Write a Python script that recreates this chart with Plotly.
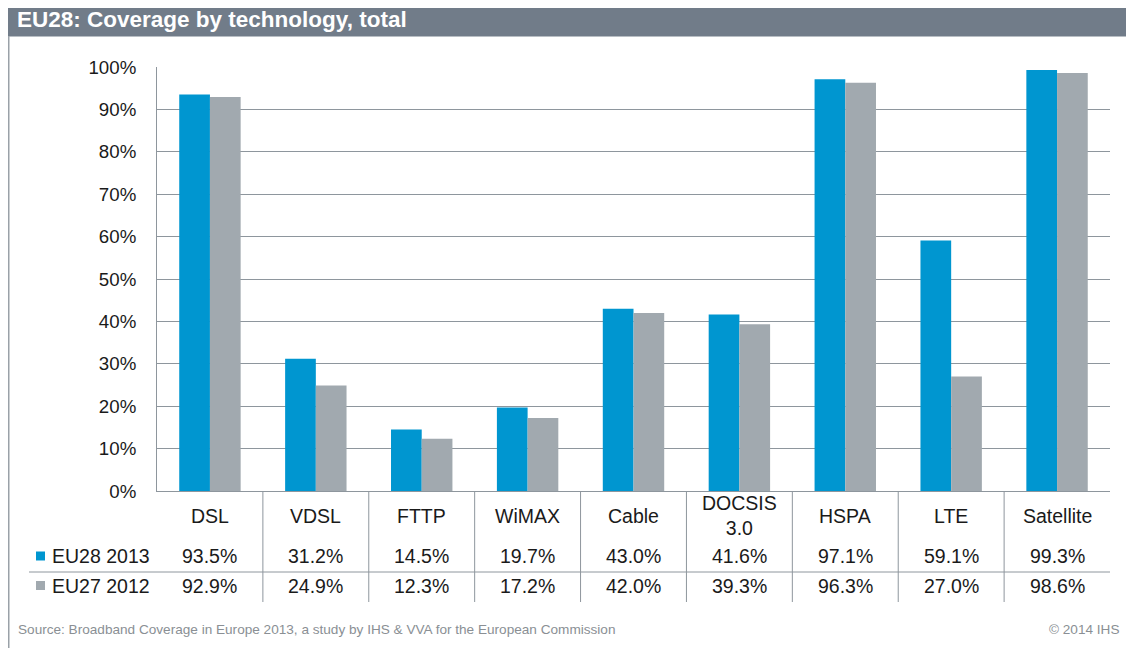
import plotly.graph_objects as go

categories = ["DSL", "VDSL", "FTTP", "WiMAX", "Cable", "DOCSIS<br>3.0", "HSPA", "LTE", "Satellite"]
eu28_2013 = [93.5, 31.2, 14.5, 19.7, 43.0, 41.6, 97.1, 59.1, 99.3]
eu27_2012 = [92.9, 24.9, 12.3, 17.2, 42.0, 39.3, 96.3, 27.0, 98.6]
series_names = ["EU28 2013", "EU27 2012"]
y_ticks = [0, 10, 20, 30, 40, 50, 60, 70, 80, 90, 100]

# page body has an 8px margin; lay out in reference pixels shifted by it
OFF = 8
W, H = 1134 - OFF, 648 - OFF
L, R, T, B = 157 - OFF, 1110 - OFF, 67 - OFF, 491 - OFF
BLUE = "#0096D0"
GREY = "#A1A9AF"
LINE = "#8E969D"
TXT = "#1a1a1a"
FONT = "Liberation Sans, Arial, sans-serif"
TS = 19.5


def px(x):
    return (x - OFF - L) / (R - L)


def py(y):
    return (B - (y - OFF)) / (B - T)


fig = go.Figure()
fig.add_trace(go.Bar(x=categories, y=eu28_2013, name=series_names[0], marker=dict(color=BLUE, line=dict(width=0))))
fig.add_trace(go.Bar(x=categories, y=eu27_2012, name=series_names[1], marker=dict(color=GREY, line=dict(width=0))))

shapes = []
shapes.append(dict(type="rect", xref="paper", yref="paper", x0=px(0), x1=px(1134 + 20), y0=py(36), y1=py(-20),
                   fillcolor="#717C89", line=dict(width=0), layer="below"))
shapes.append(dict(type="line", xref="paper", yref="paper", x0=px(0), x1=px(1134 + 20), y0=py(36.5), y1=py(36.5),
                   line=dict(color="#B8BEC4", width=1)))
shapes.append(dict(type="line", xref="paper", yref="paper", x0=px(OFF + 0.75), x1=px(OFF + 0.75), y0=py(36), y1=py(660),
                   line=dict(color="#9AA1A8", width=1.5)))
for i in range(len(categories) - 1):
    shapes.append(dict(type="line", xref="x", yref="paper", x0=i + 0.5, x1=i + 0.5, y0=0, y1=py(602),
                       line=dict(color=LINE, width=1)))
shapes.append(dict(type="line", xref="paper", yref="paper", x0=px(29), x1=1, y0=py(572), y1=py(572),
                   line=dict(color=LINE, width=1)))
shapes.append(dict(type="rect", xref="paper", yref="paper", x0=px(36), x1=px(45), y0=py(560.5), y1=py(551.5),
                   fillcolor=BLUE, line=dict(width=0)))
shapes.append(dict(type="rect", xref="paper", yref="paper", x0=px(36), x1=px(45), y0=py(590), y1=py(581),
                   fillcolor=GREY, line=dict(width=0)))

ann = []
ann.append(dict(text="<b>EU28: Coverage by technology, total</b>", xref="paper", yref="paper", x=px(15), y=py(19),
                xanchor="left", yanchor="middle", showarrow=False, font=dict(size=22.5, color="white", family=FONT)))
for i, c in enumerate(categories):
    ann.append(dict(text=c, xref="x", yref="paper", x=i, y=py(516), xanchor="center", yanchor="middle",
                    showarrow=False, font=dict(size=TS, color=TXT, family=FONT)))
    ann.append(dict(text=f"{eu28_2013[i]:.1f}%", xref="x", yref="paper", x=i, y=py(556), xanchor="center",
                    yanchor="middle", showarrow=False, font=dict(size=TS, color=TXT, family=FONT)))
    ann.append(dict(text=f"{eu27_2012[i]:.1f}%", xref="x", yref="paper", x=i, y=py(586), xanchor="center",
                    yanchor="middle", showarrow=False, font=dict(size=TS, color=TXT, family=FONT)))
for k, yy in enumerate([556, 586]):
    ann.append(dict(text=series_names[k], xref="paper", yref="paper", x=px(50), y=py(yy), xanchor="left",
                    yanchor="middle", showarrow=False, font=dict(size=TS, color=TXT, family=FONT)))
ann.append(dict(text="Source: Broadband Coverage in Europe 2013, a study by IHS & VVA for the European Commission",
                xref="paper", yref="paper", x=px(16), y=py(629), xanchor="left", yanchor="middle", showarrow=False,
                font=dict(size=13.6, color="#8A8F94", family=FONT)))
ann.append(dict(text="© 2014 IHS", xref="paper", yref="paper", x=px(1121), y=py(629), xanchor="right", yanchor="middle",
                showarrow=False, font=dict(size=13.6, color="#8A8F94", family=FONT)))

fig.update_layout(
    width=W, height=H,
    margin=dict(l=L, r=W - R, t=T, b=H - B, pad=0),
    paper_bgcolor="white", plot_bgcolor="white",
    barmode="group", bargap=0.42, bargroupgap=0,
    showlegend=False,
    font=dict(family=FONT, color=TXT),
    shapes=shapes, annotations=ann,
    xaxis=dict(showticklabels=False, showline=True, linecolor=LINE, linewidth=1, ticks="", showgrid=False,
               fixedrange=True),
    yaxis=dict(range=[0, 100], tickvals=y_ticks, ticktext=[f"{v}%" for v in y_ticks],
               tickfont=dict(size=18.7, color=TXT, family=FONT), showgrid=True, gridcolor=LINE, gridwidth=1,
               showline=True, linecolor=LINE, linewidth=1, ticks="", zeroline=False, ticklabelstandoff=16,
               fixedrange=True),
)

fig.write_html("out.html")
